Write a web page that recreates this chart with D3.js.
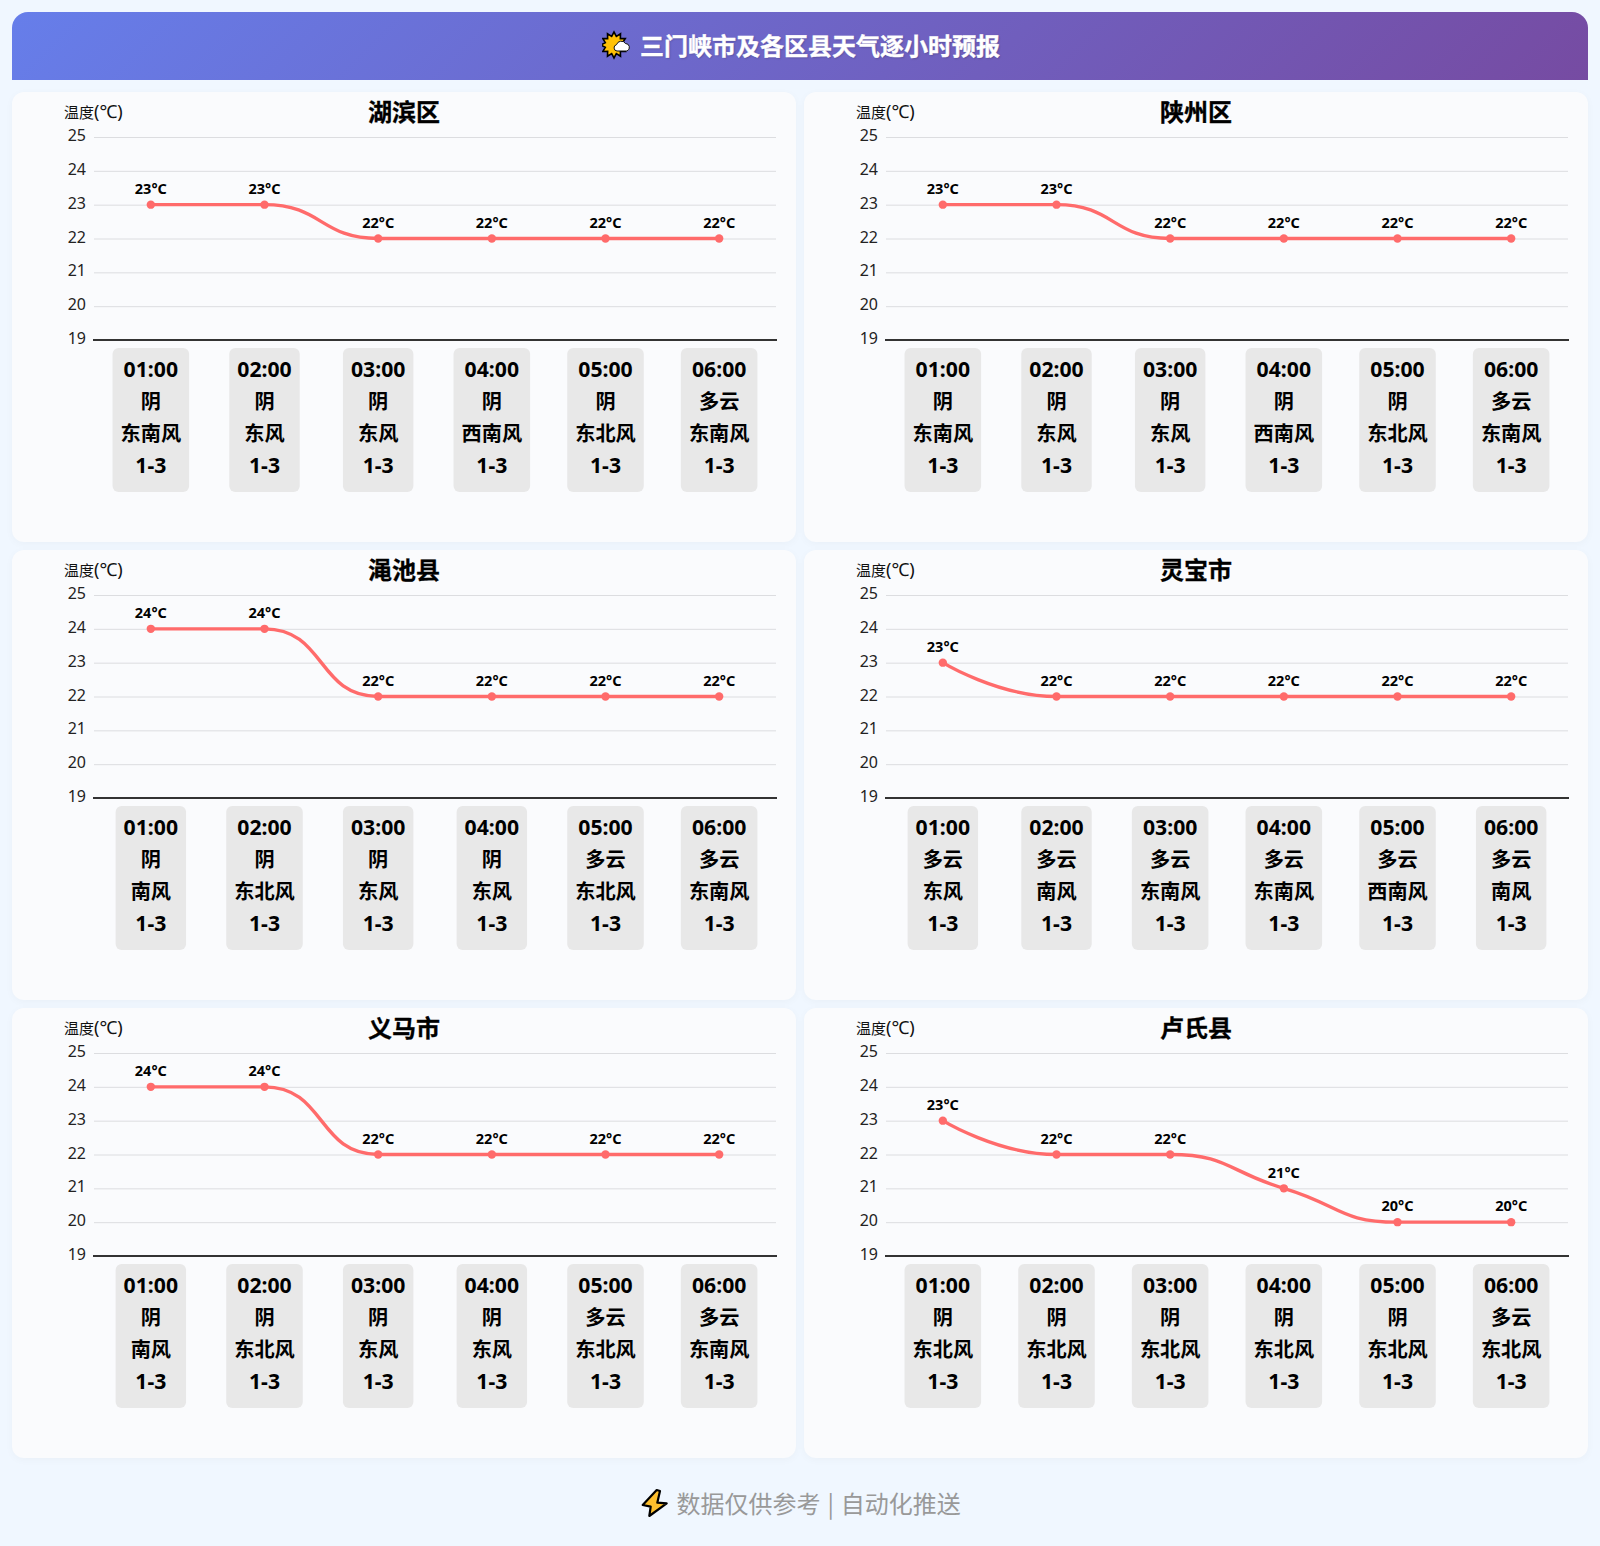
<!DOCTYPE html>
<html lang="zh"><head><meta charset="utf-8">
<script src="https://cdn.jsdelivr.net/npm/d3@7/dist/d3.min.js"></script>
<style>
html,body{margin:0;padding:0;width:1600px;height:1546px;overflow:hidden;background:#f0f7ff;font-family:"Noto Sans","Noto Sans CJK SC",sans-serif}
#header{position:absolute;left:12px;top:12px;width:1576px;height:68px;border-radius:16px 16px 0 0;background:linear-gradient(135deg,#667eea,#764ba2);}
#header .t{position:absolute;left:628px;top:0;line-height:66px;font-size:24px;font-weight:700;color:#fff;white-space:nowrap;text-shadow:1px 1px 2px rgba(0,0,0,.2);-webkit-text-stroke:.4px #fff;font-family:"Noto Sans CJK SC",sans-serif}
#foot{position:absolute;left:676.5px;top:1484px;line-height:38px;font-size:24px;color:#999;white-space:nowrap;word-spacing:1.5px;font-family:"Noto Sans CJK SC",sans-serif}
.card{position:absolute;width:784px;height:450px;background:#fafbfd;border-radius:12px;box-shadow:0 2px 8px rgba(0,0,0,.03)}
.card svg{position:absolute;left:0;top:0}
.icon{position:absolute}
text{font-family:"Noto Sans","Noto Sans CJK SC",sans-serif}
</style></head><body>
<div id="header"><svg class="icon" id="sun" width="30" height="30" style="left:590px;top:18px"></svg><div class="t">三门峡市及各区县天气逐小时预报</div></div>
<div id="cards"></div>
<svg class="icon" id="bolt" width="30" height="32" style="left:640px;top:1488px"></svg>
<div id="foot">数据仅供参考 | 自动化推送</div>
<script>
const hours = ["01:00","02:00","03:00","04:00","05:00","06:00"];
const windForce = "1-3";
const yTicks = [19,20,21,22,23,24,25];
const regionNames = ["湖滨区","陕州区","渑池县","灵宝市","义马市","卢氏县"];

const tempHubin   = [23,23,22,22,22,22];
const tempShanzhou= [23,23,22,22,22,22];
const tempMianchi = [24,24,22,22,22,22];
const tempLingbao = [23,22,22,22,22,22];
const tempYima    = [24,24,22,22,22,22];
const tempLushi   = [23,22,22,21,20,20];

const skyHubin   = ["阴","阴","阴","阴","阴","多云"];
const skyShanzhou= ["阴","阴","阴","阴","阴","多云"];
const skyMianchi = ["阴","阴","阴","阴","多云","多云"];
const skyLingbao = ["多云","多云","多云","多云","多云","多云"];
const skyYima    = ["阴","阴","阴","阴","多云","多云"];
const skyLushi   = ["阴","阴","阴","阴","阴","多云"];

const windHubin   = ["东南风","东风","东风","西南风","东北风","东南风"];
const windShanzhou= ["东南风","东风","东风","西南风","东北风","东南风"];
const windMianchi = ["南风","东北风","东风","东风","东北风","东南风"];
const windLingbao = ["东风","南风","东南风","东南风","西南风","南风"];
const windYima    = ["南风","东北风","东风","东风","东北风","东南风"];
const windLushi   = ["东北风","东北风","东北风","东北风","东北风","东北风"];

const temps=[tempHubin,tempShanzhou,tempMianchi,tempLingbao,tempYima,tempLushi];
const skies=[skyHubin,skyShanzhou,skyMianchi,skyLingbao,skyYima,skyLushi];
const winds=[windHubin,windShanzhou,windMianchi,windLingbao,windYima,windLushi];

// smooth curve: tangent along (next-prev), split by segment length, clamped to the neighbours
function SmoothCurve(ctx){this._c=ctx;}
SmoothCurve.prototype={
  areaStart(){},areaEnd(){},
  lineStart(){this._p=[];},
  point(x,y){this._p.push([+x,+y]);},
  lineEnd(){
    const p=this._p,c=this._c,s=0.5,n=p.length;
    const clamp=(v,a,b)=>Math.min(Math.max(a,b),Math.max(Math.min(a,b),v));
    const cpOut=[],cpIn=[];
    for(let i=0;i<n;i++){
      if(i===0||i===n-1){cpOut[i]=p[i];cpIn[i]=p[i];continue;}
      const [x,y]=p[i],[px,py]=p[i-1],[nx,ny]=p[i+1];
      const lp=Math.hypot(x-px,y-py),ln=Math.hypot(nx-x,ny-y);
      const r=ln/(ln+lp);
      let ox=clamp(x+(nx-px)*s*r,x,nx),oy=clamp(y+(ny-py)*s*r,y,ny);
      let ix=clamp(x-(ox-x)*lp/ln,x,px),iy=clamp(y-(oy-y)*lp/ln,y,py);
      ox=clamp(x+(x-ix)*ln/lp,x,nx);oy=clamp(y+(y-iy)*ln/lp,y,ny);
      cpOut[i]=[ox,oy];cpIn[i]=[ix,iy];
    }
    c.moveTo(p[0][0],p[0][1]);
    for(let i=1;i<n;i++)c.bezierCurveTo(cpOut[i-1][0],cpOut[i-1][1],cpIn[i][0],cpIn[i][1],p[i][0],p[i][1]);
  }
};
const smooth=ctx=>new SmoothCurve(ctx);

const W=784,H=450;
const plotL=82,plotR=764,plotT=45,plotB=248;
const x=d3.scaleBand().domain(hours).range([plotL,plotR]);
const y=d3.scaleLinear().domain([19,25]).range([plotB,plotT]);
const line=d3.line().x((d,i)=>x(hours[i])+x.bandwidth()/2).y(d=>y(d)).curve(smooth);

regionNames.forEach((name,idx)=>{
  const col=idx%2,row=Math.floor(idx/2);
  const card=d3.select("#cards").append("div").attr("class","card")
    .style("left",(12+col*792)+"px").style("top",(92+row*458)+"px");
  const svg=card.append("svg").attr("width",W).attr("height",H);

  svg.append("text").attr("x",392).attr("y",29).attr("text-anchor","middle")
    .attr("font-size",24).attr("font-weight",700).attr("fill","#000")
    .attr("stroke","#000").attr("stroke-width",.3).text(name);
  const yName=svg.append("text").attr("x",52).attr("y",26).attr("font-size",15).attr("fill","#111");
  yName.append("tspan").text("温度");
  yName.append("tspan").attr("font-size",18).text("(℃)");

  const gy=svg.append("g").attr("transform",`translate(${plotL},0)`)
    .call(d3.axisLeft(y).tickValues(yTicks).tickSize(-(plotR-plotL)).tickPadding(8).tickFormat(d3.format("d")));
  gy.select(".domain").remove();
  gy.selectAll(".tick line").attr("stroke","#dcdde0").attr("stroke-width",1);
  gy.selectAll(".tick text").attr("font-size",16).attr("fill","#222").attr("dy","0.22em");
  gy.selectAll(".tick").filter(d=>d===19).select("line").remove();

  const gx=svg.append("g").attr("transform",`translate(0,${plotB})`)
    .call(d3.axisBottom(x).tickSize(0).tickFormat(""));
  gx.select(".domain").attr("stroke","#333").attr("stroke-width",2).attr("d",`M${plotL-1},0H${plotR+1}`);

  const t=temps[idx];
  svg.append("path").attr("d",line(t)).attr("fill","none").attr("stroke","#ff6b6b").attr("stroke-width",3.4);
  const cx=i=>x(hours[i])+x.bandwidth()/2;
  svg.append("g").selectAll("circle").data(t).join("circle")
    .attr("cx",(d,i)=>cx(i)).attr("cy",d=>y(d)).attr("r",4.2).attr("fill","#ff6b6b");
  svg.append("g").selectAll("text").data(t).join("text")
    .attr("x",(d,i)=>cx(i)).attr("y",d=>y(d)-10.8).attr("text-anchor","middle")
    .attr("font-size",14.5).attr("font-weight",700).attr("fill","#000").text(d=>d+"°C");

  hours.forEach((h,i)=>{
    const g=svg.append("g");
    const rect=g.append("rect");
    const lines=[h,skies[idx][i],winds[idx][i],windForce];
    let w=0;
    lines.forEach((s,j)=>{
      const latin=(j===0||j===3);
      const tx=g.append("text").attr("x",cx(i)).attr("y",plotB+37+j*32)
        .attr("text-anchor","middle").attr("font-size",latin?21.2:20.2).attr("font-weight",700).attr("fill","#000").text(s);
      w=Math.max(w,tx.node().getComputedTextLength());
    });
    const bw=w+16;
    rect.attr("x",cx(i)-bw/2).attr("y",plotB+8).attr("width",bw).attr("height",144).attr("rx",6).attr("fill","#e8e8e8");
  });
});

// header icon: sun burst with cloud
const sun=d3.select("#sun");
const spikes=12,cxS=12,cyS=15;
const star=d3.range(spikes*2).map(i=>{
  const a=i/(spikes*2)*2*Math.PI, r=i%2?9:13;
  return [cxS+r*Math.cos(a),cyS+r*Math.sin(a)];
});
sun.append("polygon").attr("points",star.join(" ")).attr("fill","#ffc107").attr("stroke","#000").attr("stroke-width",1.6);
sun.append("path").attr("d","M15,21 a3.2,3.2 0 0 1 -0.5,-6.3 a5,5 0 0 1 9,-1.2 a3.9,3.9 0 0 1 1.5,7.5 z").attr("fill","#fff").attr("stroke","#111").attr("stroke-width",1);

// footer icon: bolt
d3.select("#bolt").append("path")
  .attr("d","M16.7,2 L2.7,17 L10.7,18.7 L9.3,28 L26.7,15.3 L17.3,14.7 L20,3 Z")
  .attr("fill","#fdbf2d").attr("stroke","#000").attr("stroke-width",2.2).attr("stroke-linejoin","round");
</script>
</body></html>
